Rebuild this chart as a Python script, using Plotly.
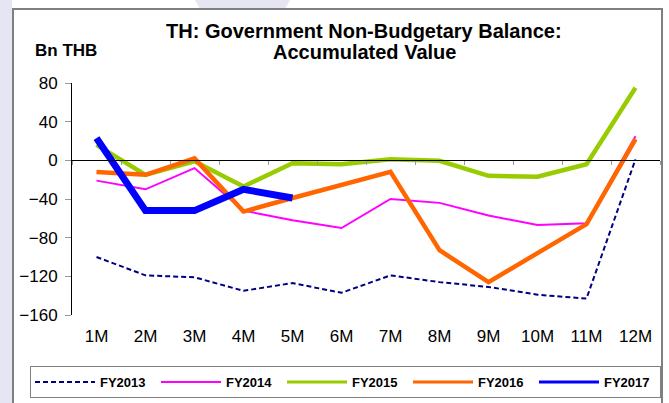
import plotly.graph_objects as go

months = ["1M", "2M", "3M", "4M", "5M", "6M", "7M", "8M", "9M", "10M", "11M", "12M"]
fy2013 = [-100, -119, -121, -135, -127, -137, -119, -126, -131, -139, -143, 1]
fy2014 = [-21, -30, -8, -52, -62, -70, -40, -44, -57, -67, -65, 25]
fy2015 = [16, -15, -1, -27, -3, -4, 1, -0.5, -16, -17, -4, 75]
fy2016 = [-12, -15, 2, -53, -39, -25, -12, -93, -126, -96, -66, 22]
fy2017 = [23, -52, -52, -30, -39]
yticks = [80, 40, 0, -40, -80, -120, -160]

W, H = 669, 403
L, R, T, B = 72, 660, 83, 315


def px(x):
    return (x - L) / (R - L)


def py(y):
    return (B - y) / (B - T)


FONT = "Liberation Sans, Arial, sans-serif"

fig = go.Figure()
series = [
    ("FY2013", fy2013, "#000080", 2, "5px,3px", 2),
    ("FY2014", fy2014, "#ff00ff", 2, "solid", 2),
    ("FY2015", fy2015, "#99cc00", 4.5, "solid", 3),
    ("FY2016", fy2016, "#ff6600", 4.5, "solid", 3),
    ("FY2017", fy2017, "#0000ff", 7, "solid", 3),
]
for name, vals, col, w, dash, lw in series:
    fig.add_trace(go.Scatter(
        x=months[:len(vals)], y=vals, name=name, mode="lines",
        line=dict(color=col, width=w, dash=dash),
        hoverinfo="skip", showlegend=False, legendgroup=name,
    ))
# legend samples (thinner lines as in the original legend)
for name, vals, col, w, dash, lw in series:
    fig.add_trace(go.Scatter(
        x=[None], y=[None], name=name, mode="lines",
        line=dict(color=col, width=lw, dash=dash),
        hoverinfo="skip", showlegend=True, legendgroup=name,
    ))

# invisible trace to carry the zero-line axis with boundary ticks
fig.add_trace(go.Scatter(x=months, y=[None] * len(months), xaxis="x2",
                         showlegend=False, hoverinfo="skip", mode="lines"))

title_lines = ["TH: Government Non-Budgetary Balance:", "Accumulated Value"]
title_y = [31, 52]

annotations = [dict(
    text=f"<b>{t}</b>", xref="paper", yref="paper",
    x=px(364), y=py(yy), xanchor="center", yanchor="middle",
    showarrow=False, font=dict(size=20, family=FONT),
) for t, yy in zip(title_lines, title_y)]
annotations.append(dict(
    text="<b>Bn THB</b>", xref="paper", yref="paper",
    x=px(33), y=py(51), xanchor="left", yanchor="middle",
    showarrow=False, font=dict(size=17, family=FONT),
))

fig.update_layout(
    width=W, height=H,
    margin=dict(l=L, r=W - R, t=T, b=H - B, autoexpand=False),
    paper_bgcolor="white", plot_bgcolor="white",
    font=dict(family=FONT, color="black", size=16),
    showlegend=True,
    xaxis=dict(
        type="category", categoryorder="array", categoryarray=months,
        range=[-0.5, 11.5], showline=False, showgrid=False, zeroline=False,
        ticks="", ticklabelstandoff=9, tickfont=dict(size=17),
    ),
    xaxis2=dict(
        type="category", categoryorder="array", categoryarray=months,
        range=[-0.5, 11.5], overlaying="x", anchor="free", position=160 / 240,
        showline=True, linecolor="black", linewidth=1,
        ticks="outside", tickson="boundaries", ticklen=4, tickcolor="#999999",
        showticklabels=False, showgrid=False, zeroline=False,
    ),
    yaxis=dict(
        range=[-160, 80], tickvals=yticks, showgrid=False,
        zeroline=False, showline=True, linecolor="black", linewidth=1,
        ticks="outside", ticklen=6, tickcolor="#999999", tickfont=dict(size=17),
        ticklabelstandoff=4,
    ),
    legend=dict(
        orientation="h", x=px(30), y=py(366), xanchor="left", yanchor="top",
        bordercolor="#808080", borderwidth=1, bgcolor="white",
        font=dict(size=13, family=FONT, weight="bold"),
        entrywidth=51, itemwidth=60, tracegroupgap=0,
    ),
    annotations=annotations,
    shapes=[
        dict(type="rect", xref="paper", yref="paper", x0=px(0), x1=px(12),
             y0=py(H), y1=py(0), fillcolor="#e6e6f2", line=dict(width=0), layer="below"),
        dict(type="path", xref="paper", yref="paper",
             path=f"M {px(195)},{py(0)} L {px(290)},{py(0)} L {px(285)},{py(9)} L {px(200)},{py(9)} Z",
             fillcolor="#e6e6f2", line=dict(width=0), layer="below"),
        dict(type="rect", xref="paper", yref="paper", x0=px(13), x1=px(662),
             y0=py(H + 5), y1=py(9), line=dict(color="#808080", width=2),
             fillcolor="rgba(0,0,0,0)", layer="above"),
    ],
)

fig.write_html("out.html", config={"displayModeBar": False},
               post_script="document.body.style.margin='0';")
